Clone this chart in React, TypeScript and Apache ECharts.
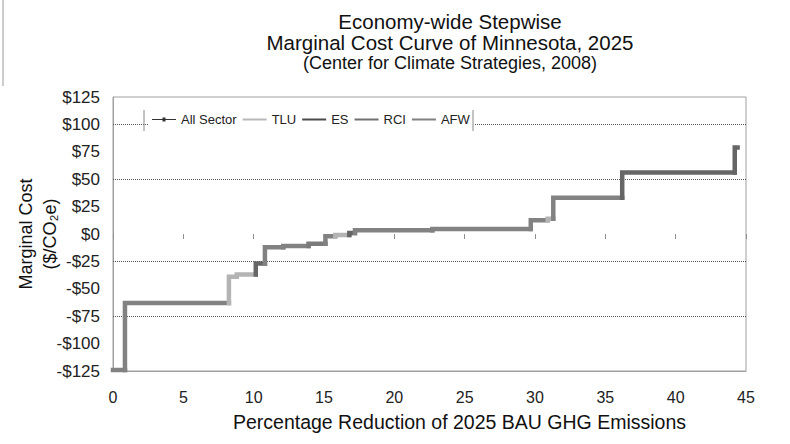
import React, { useEffect, useRef } from "react";
import * as echarts from "echarts";

// Cumulative % reduction at the end of each step, and the cost of each step
const stepEnds = [0.85, 8.24, 8.8, 10.15, 10.8, 12.1, 13.9, 15.1, 15.8, 16.8, 17.2, 22.7, 29.7, 30.9, 31.3, 36.2, 44.2, 44.4];
const stepCosts = [-124, -63, -39, -37, -27, -12, -11, -9, -2, -1, 1, 3.5, 4.5, 12.5, 14, 33, 56, 79];
const stepSectors = ["RCI", "RCI", "TLU", "TLU", "ES", "RCI", "RCI", "AFW", "RCI", "TLU", "ES", "RCI", "RCI", "RCI", "TLU", "RCI", "ES", "ES"];

const sectorNames = ["TLU", "ES", "RCI", "AFW"];
const sectorColors: Record<string, string> = { TLU: "#b4b4b4", ES: "#666666", RCI: "#828282", AFW: "#7a7a7a" };
const legendColors: Record<string, string> = { TLU: "#b8b8b8", ES: "#4a4a4a", RCI: "#707070", AFW: "#808080" };
const gridValues = [100, 50, -25, -75];
const xTicks = [0, 45, 5];
const yRange = [-125, 125, 25];

const FONT = "Liberation Sans, Arial, sans-serif";

export default function App() {
  const ref = useRef<HTMLDivElement>(null);
  useEffect(() => {
    if (!ref.current) return;
    const chart = echarts.init(ref.current, undefined, { renderer: "svg" });

    const allData: number[][] = [];
    let prevX = 0;
    stepEnds.forEach((end, i) => {
      const c = stepCosts[i];
      allData.push([i === 0 ? 0 : prevX, c]);
      allData.push([end, c]);
      prevX = end;
    });

    const sectorSeries: any[] = [];
    let sx = 0;
    stepEnds.forEach((end, i) => {
      const c = stepCosts[i];
      const pc = i === 0 ? c : stepCosts[i - 1];
      const name = stepSectors[i];
      sectorSeries.push({
        name,
        type: "line",
        data: [[sx, pc], [sx, c], [end, c]],
        symbol: "none",
        lineStyle: { color: sectorColors[name], width: 4.5, cap: "square", join: "miter" },
        itemStyle: { color: legendColors[name] },
        z: 3,
        silent: true,
      });
      sx = end;
    });

    const lineIcon = "path://M0,0 L24,0 L24,2 L0,2 Z";
    const allIcon = "path://M0,3 L24,3 L24,4 L0,4 Z M10.5,1.5 L13.5,1.5 L13.5,5.5 L10.5,5.5 Z";

    const titleStyle = (size: number) => ({ fontSize: size, lineHeight: size, fontWeight: "normal" as const, color: "#111", fontFamily: FONT });

    chart.setOption({
      animation: false,
      textStyle: { fontFamily: FONT },
      title: [
        { text: "Economy-wide Stepwise", left: 450, textAlign: "center", top: 11, padding: 0, textStyle: titleStyle(20.5) },
        { text: "Marginal Cost Curve of Minnesota, 2025", left: 450, textAlign: "center", top: 32, padding: 0, textStyle: titleStyle(20.5) },
        { text: "(Center for Climate Strategies, 2008)", left: 450, textAlign: "center", top: 54, padding: 0, textStyle: titleStyle(18) },
      ],
      legend: {
        data: [
          { name: "All Sector", icon: allIcon, itemStyle: { color: "#333" } },
          ...sectorNames.map((n) => ({ name: n, icon: lineIcon, itemStyle: { color: legendColors[n] } })),
        ],
        left: 148,
        top: 111,
        itemWidth: 24,
        itemHeight: 8,
        itemGap: 6,
        padding: [2, 4, 2, 4],
        backgroundColor: "#fff",
        textStyle: { fontSize: 13, color: "#222", fontFamily: FONT },
      },
      grid: { left: 113, right: 44, top: 97, bottom: 73, show: true, borderColor: "#a0a0a0", borderWidth: 1, containLabel: false, outerBoundsMode: "none" },
      xAxis: [
        {
          type: "value",
          min: xTicks[0],
          max: xTicks[1],
          interval: xTicks[2],
          position: "bottom",
          axisLine: { show: true, onZero: false, lineStyle: { color: "#a0a0a0" } },
          axisTick: { show: false },
          axisLabel: { fontSize: 16, color: "#222", margin: 18, fontFamily: FONT },
          splitLine: { show: false },
          name: "Percentage Reduction of 2025 BAU GHG Emissions",
          nameLocation: "middle",
          nameGap: 41,
          nameMoveOverlap: false,
          nameTextStyle: { fontSize: 19.5, color: "#111", padding: [0, 0, 0, 60], fontFamily: FONT },
        },
        {
          type: "value",
          min: xTicks[0],
          max: xTicks[1],
          interval: xTicks[2],
          position: "bottom",
          axisLine: { show: false, onZero: true },
          axisTick: { show: true, length: 5, lineStyle: { color: "#909090" } },
          axisLabel: { show: false },
          splitLine: { show: false },
        },
      ],
      yAxis: {
        type: "value",
        min: yRange[0],
        max: yRange[1],
        interval: yRange[2],
        axisLine: { show: true, lineStyle: { color: "#a0a0a0" } },
        axisTick: { show: false },
        splitLine: { show: false },
        axisLabel: {
          fontSize: 17,
          color: "#222",
          margin: 13,
          fontFamily: FONT,
          formatter: (v: number) => (v < 0 ? "-$" + Math.abs(v) : "$" + v),
        },
        name: "Marginal Cost\n($/CO₂e)",
        nameLocation: "middle",
        nameGap: 51,
        nameMoveOverlap: false,
        nameTextStyle: { fontSize: 18, color: "#111", lineHeight: 24, fontFamily: FONT },
      },
      graphic: [
        { type: "line", shape: { x1: 144, y1: 110, x2: 144, y2: 131 }, style: { stroke: "#888", lineWidth: 1 }, z: 100 },
        { type: "line", shape: { x1: 473, y1: 110, x2: 473, y2: 131 }, style: { stroke: "#888", lineWidth: 1 }, z: 100 },
        { type: "line", shape: { x1: 3, y1: 0, x2: 3, y2: 86 }, style: { stroke: "#999", lineWidth: 1 } },
      ],
      series: [
        {
          name: "All Sector",
          type: "line",
          data: allData,
          symbol: "circle",
          symbolSize: 3,
          showSymbol: true,
          lineStyle: { color: "#333", width: 1 },
          itemStyle: { color: "#333" },
          z: 2,
          silent: true,
          markLine: {
            silent: true,
            symbol: "none",
            label: { show: false },
            lineStyle: { color: "#555", type: [1, 1], width: 1 },
            data: gridValues.map((v) => ({ yAxis: v })),
            z: 1,
          },
        },
        ...sectorSeries,
      ],
    });
    return () => chart.dispose();
  }, []);
  return <div ref={ref} style={{ width: 790, height: 444, position: "absolute", left: 0, top: 0 }} />;
}
